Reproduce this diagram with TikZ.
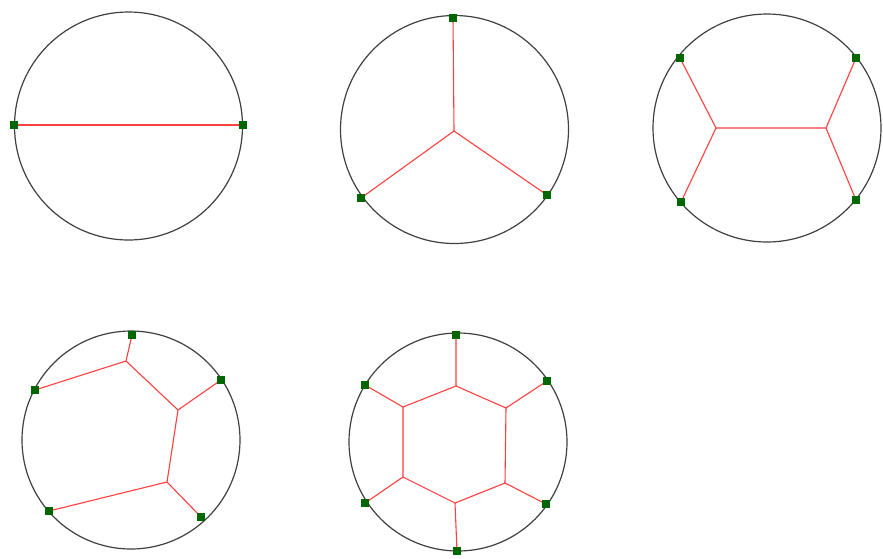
\documentclass[tikz,border=0pt]{standalone}
\begin{document}
\begin{tikzpicture}[x=1pt,y=-1pt,
  rim/.style={draw=black!75,line width=1.2pt},
  edge/.style={draw=red!75!white,line width=1.1pt},
  term/.style={rectangle,fill=green!40!black,minimum size=8pt,inner sep=0pt}]
\useasboundingbox[fill=white] (0,0) rectangle (883,558);
% circle 1
\draw[rim] (128.5,126) circle (114pt);
\coordinate (p1a) at (14,125); \coordinate (p1b) at (243,125);
\draw[edge] (p1a) -- (p1b);
\node[term] (t1a) at (p1a) {}; \node[term] (t1b) at (p1b) {};
% circle 2
\draw[rim] (454.5,129.5) circle (114pt);
\coordinate (p2a) at (453,18); \coordinate (p2b) at (361,198); \coordinate (p2c) at (547,195);
\coordinate (j2) at (454,131);
\draw[edge] (p2a) -- (j2) (p2b) -- (j2) (p2c) -- (j2);
\node[term] at (p2a) {}; \node[term] at (p2b) {}; \node[term] at (p2c) {};
% circle 3
\draw[rim] (767,128) circle (114pt);
\coordinate (p3a) at (680,58); \coordinate (p3b) at (856,58);
\coordinate (p3c) at (681,202); \coordinate (p3d) at (856,200);
\coordinate (j3a) at (716,128); \coordinate (j3b) at (826,128);
\draw[edge] (p3a) -- (j3a) -- (p3c) (j3a) -- (j3b) (p3b) -- (j3b) -- (p3d);
\node[term] at (p3a) {}; \node[term] at (p3b) {}; \node[term] at (p3c) {}; \node[term] at (p3d) {};
% circle 4
\draw[rim] (131,440) circle (109pt);
\coordinate (p4a) at (132,335); \coordinate (p4b) at (35,390); \coordinate (p4c) at (221,380);
\coordinate (p4d) at (49,511); \coordinate (p4e) at (201,517);
\coordinate (j4a) at (126,361); \coordinate (j4b) at (178,410); \coordinate (j4c) at (167,482);
\draw[edge] (p4a) -- (j4a) -- (p4b) (j4a) -- (j4b) -- (p4c) (j4b) -- (j4c) -- (p4d) (j4c) -- (p4e);
\node[term] at (p4a) {}; \node[term] at (p4b) {}; \node[term] at (p4c) {};
\node[term] at (p4d) {}; \node[term] at (p4e) {};
% circle 5
\draw[rim] (458,442) circle (109pt);
\coordinate (p5a) at (456,335); \coordinate (p5b) at (365,385); \coordinate (p5c) at (547,381);
\coordinate (p5d) at (365,503); \coordinate (p5e) at (546,504); \coordinate (p5f) at (457,551);
\coordinate (h5a) at (456,386); \coordinate (h5b) at (403,407); \coordinate (h5c) at (506,408);
\coordinate (h5d) at (403,477); \coordinate (h5e) at (505,483); \coordinate (h5f) at (455,503);
\draw[edge] (h5a) -- (h5c) -- (h5e) -- (h5f) -- (h5d) -- (h5b) -- cycle;
\draw[edge] (p5a) -- (h5a) (p5b) -- (h5b) (p5c) -- (h5c) (p5d) -- (h5d) (p5e) -- (h5e) (p5f) -- (h5f);
\node[term] at (p5a) {}; \node[term] at (p5b) {}; \node[term] at (p5c) {};
\node[term] at (p5d) {}; \node[term] at (p5e) {}; \node[term] at (p5f) {};
\end{tikzpicture}
\end{document}
